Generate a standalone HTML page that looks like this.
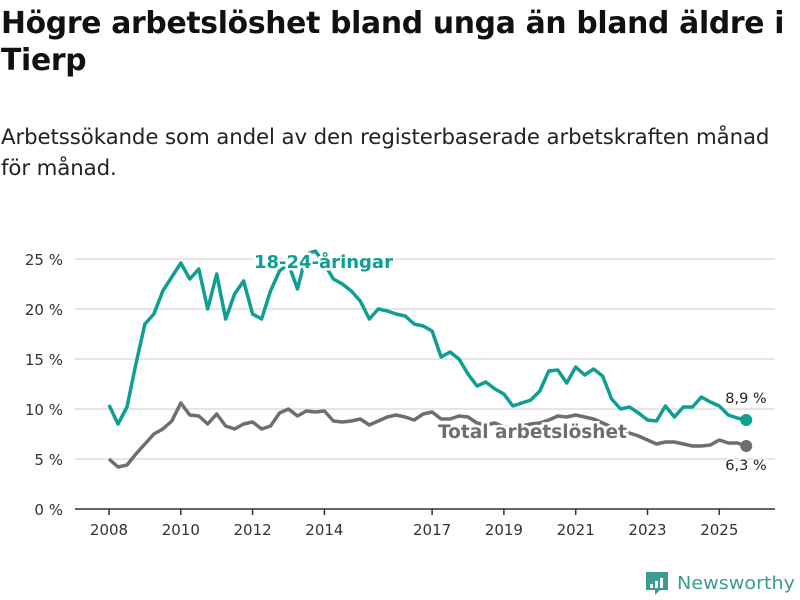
<!DOCTYPE html>
<html><head><meta charset="utf-8"><style>
body{margin:0;background:#fff;width:800px;height:600px;overflow:hidden;font-family:"Liberation Sans","DejaVu Sans",sans-serif}
#title{position:absolute;left:1px;top:5px;margin:0;font-size:29.8px;font-weight:bold;line-height:37px;color:#111;font-family:"DejaVu Sans",sans-serif;letter-spacing:-0.3px;white-space:nowrap}
#sub{position:absolute;left:1px;top:122px;margin:0;font-size:21.3px;line-height:31px;color:#222;font-family:"DejaVu Sans",sans-serif;letter-spacing:-0.1px;white-space:nowrap}
svg{position:absolute;left:0;top:0}
</style></head><body>
<h1 id="title">Högre arbetslöshet bland unga än bland äldre i<br>Tierp</h1>
<p id="sub">Arbetssökande som andel av den registerbaserade arbetskraften månad<br>för månad.</p>
<svg id="chart" width="800" height="600"></svg>
<script>
const startYear = 2008;
const step = 0.25;
const youth = [10.4,8.5,10.2,14.5,18.5,19.5,21.8,23.2,24.6,23,24,20,23.5,19,21.5,22.8,19.5,19,21.8,23.8,24.5,22,25.5,25.8,24.5,23,22.5,21.8,20.8,19,20,19.8,19.5,19.3,18.5,18.3,17.8,15.2,15.7,15,13.5,12.3,12.7,12,11.5,10.3,10.6,10.9,11.8,13.8,13.9,12.6,14.2,13.4,14,13.3,11,10,10.2,9.6,8.9,8.8,10.3,9.2,10.2,10.2,11.2,10.7,10.3,9.4,9.1,8.9];
const total = [5,4.2,4.4,5.5,6.5,7.5,8,8.8,10.6,9.4,9.3,8.5,9.5,8.3,8,8.5,8.7,8,8.3,9.6,10,9.3,9.8,9.7,9.8,8.8,8.7,8.8,9,8.4,8.8,9.2,9.4,9.2,8.9,9.5,9.7,9,9,9.3,9.2,8.6,8.4,8.6,8.2,8,8.3,8.5,8.6,8.9,9.3,9.2,9.4,9.2,9,8.6,8.2,8,7.6,7.3,6.9,6.5,6.7,6.7,6.5,6.3,6.3,6.4,6.9,6.6,6.6,6.3];
const yTicks = [0,5,10,15,20,25];
const xTicks = [2008,2010,2012,2014,2017,2019,2021,2023,2025];
const NS="http://www.w3.org/2000/svg";
const svg=document.getElementById('chart');
const x=v=>109+35.9*(v-2008);
const y=v=>509-10*v;
function mk(t,a,p){const e=document.createElementNS(NS,t);for(const k in a)e.setAttribute(k,a[k]);(p||svg).appendChild(e);return e;}
yTicks.forEach(t=>{
  if(t>0){const g=mk('line',{x1:75,x2:775,y1:y(t),y2:y(t),stroke:'#ddd','stroke-width':1.5});
  
  }
  const l=mk('text',{x:63,y:y(t)+6,'text-anchor':'end','font-size':15,fill:'#333','font-family':'DejaVu Sans,sans-serif'});
  l.textContent=t+' %';
  
  
});
const ax=mk('line',{x1:75,x2:775,y1:509,y2:509,stroke:'#333','stroke-width':1.5});


xTicks.forEach(t=>{
  const tk=mk('line',{x1:x(t),x2:x(t),y1:509,y2:515,stroke:'#333','stroke-width':1.5});
  
  
  const l=mk('text',{x:x(t),y:535,'text-anchor':'middle','font-size':15,fill:'#333','font-family':'DejaVu Sans,sans-serif'});
  l.textContent=t;
  
  
});
function path(arr){return arr.map((v,i)=>(i?'L':'M')+x(startYear+i*step).toFixed(1)+','+y(v).toFixed(1)).join('');}
const tl=mk('path',{d:path(total),fill:'none',stroke:'#6e6e70','stroke-width':3.5,'stroke-linejoin':'round'});


const yl=mk('path',{d:path(youth),fill:'none',stroke:'#0f9e92','stroke-width':3.5,'stroke-linejoin':'round'});


const lx=x(startYear+(youth.length-1)*step);
const d1=mk('circle',{cx:lx,cy:y(youth[youth.length-1]),r:6,fill:'#0f9e92'});


const d2=mk('circle',{cx:lx,cy:y(total[total.length-1]),r:6,fill:'#6e6e70'});


function lab(txt,xx,yy,size,col,bold,name,anchor){
  const t=mk('text',{x:xx,y:yy,'font-size':size,fill:col,'font-weight':bold?'bold':'normal','font-family':'DejaVu Sans,sans-serif',stroke:'#fff','stroke-width':bold?5:3,'paint-order':'stroke','text-anchor':anchor||'start'});
  t.textContent=txt;
  
  
}
lab('18-24-åringar',254,268,18,'#0f9e92',true,'youth-series-label');
lab('Total arbetslöshet',438,438,18.5,'#6e6e70',true,'total-series-label');
lab(youth[youth.length-1].toFixed(1).replace('.',',')+' %',746,403,14.5,'#222',false,'youth-end-value','middle');
lab(total[total.length-1].toFixed(1).replace('.',',')+' %',746,470,14.5,'#222',false,'total-end-value','middle');
// logo
const lg=mk('g',{});


mk('path',{d:'M646,572h22v18h-8l-5,5v-5h-9z',fill:'#3a9c93'},lg);
[[650,584,3,4],[655,581,3,7],[660,578,3,10]].forEach(b=>mk('rect',{x:b[0],y:b[1],width:b[2],height:b[3],fill:'#fff'},lg));
const lt=mk('text',{x:677,y:589,'font-size':18,fill:'#3a9c93','font-family':'DejaVu Sans,sans-serif','textLength':118,'lengthAdjust':'spacingAndGlyphs'},lg);
lt.textContent='Newsworthy';
</script>
</body></html>
